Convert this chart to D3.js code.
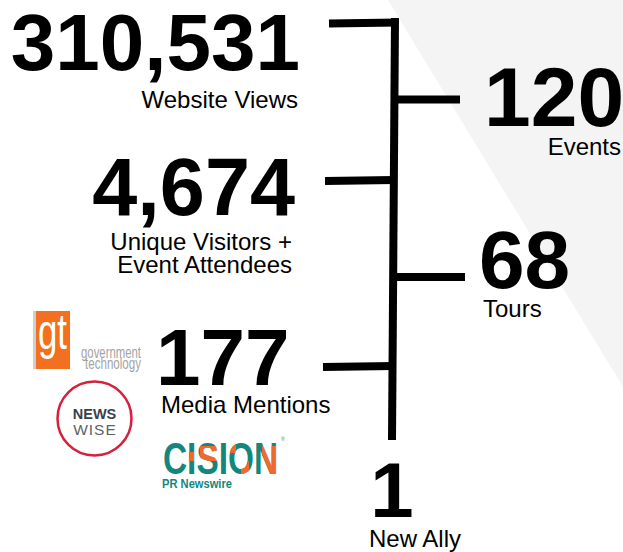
<!DOCTYPE html>
<html>
<head>
<meta charset="utf-8">
<script src="https://cdn.jsdelivr.net/npm/d3@7"></script>
<style>
  body { margin: 0; background: #fff; }
  text { font-family: 'Liberation Sans', Arial, sans-serif; }
</style>
</head>
<body>
<script>
// stats shown on the tree
let values = [310531, 120, 4674, 68, 177, 1]
let labels = [
  ['Website Views'],
  ['Events'],
  ['Unique Visitors +', 'Event Attendees'],
  ['Tours'],
  ['Media Mentions'],
  ['New Ally']
]
let sides = ['left', 'right', 'left', 'right', 'left', 'bottom']

// where each branch sits and where its text goes
let branchY = [22.5, 99.5, 180, 277, 366, 440]
let branchEnd = [329, 460, 325, 465, 323, null]
let numPos = [
  {x: 300, y: 70, anchor: 'end', size: 80},
  {x: 484, y: 126, anchor: 'start', size: 84},
  {x: 295, y: 215, anchor: 'end', size: 81},
  {x: 479, y: 288, anchor: 'start', size: 82},
  {x: 156, y: 385, anchor: 'start', size: 80},
  {x: 392, y: 517, anchor: 'middle', size: 78}
]
let labPos = [
  {x: 298, y: 108, anchor: 'end'},
  {x: 621, y: 155, anchor: 'end'},
  {x: 292, y: 250, anchor: 'end'},
  {x: 483, y: 317, anchor: 'start'},
  {x: 161, y: 413, anchor: 'start'},
  {x: 369, y: 547, anchor: 'start'}
]

let width = 623
let height = 552
let trunkX = 394
let fmt = d3.format(',')

let svg = d3.select('body').append('svg')
  .attr('width', width)
  .attr('height', height)

// light grey wedge on the right
svg.append('polygon')
  .attr('points', [[388, 0], [width, 0], [width, 387]].map(p => p.join(',')).join(' '))
  .attr('fill', '#f4f4f4')

let y = d3.scaleOrdinal()
  .domain(d3.range(values.length))
  .range(branchY)

let tree = svg.append('g')
  .attr('stroke', '#000')
  .attr('stroke-width', 8)
  .attr('fill', 'none')

// trunk
tree.append('line')
  .attr('x1', trunkX + 1).attr('y1', 18)
  .attr('x2', trunkX - 2).attr('y2', y(5))

// branches
tree.selectAll('line.branch')
  .data(d3.range(values.length).filter(i => sides[i] !== 'bottom'))
  .enter()
  .append('line')
  .attr('class', 'branch')
  .attr('x1', i => branchEnd[i])
  .attr('y1', i => y(i) + (sides[i] === 'left' ? 1 : 0))
  .attr('x2', i => sides[i] === 'left' ? trunkX + (i === 0 ? 4 : 0) : trunkX)
  .attr('y2', i => y(i))

// big numbers
svg.selectAll('text.num')
  .data(values)
  .enter()
  .append('text')
  .attr('class', 'num')
  .attr('x', (d, i) => numPos[i].x)
  .attr('y', (d, i) => numPos[i].y)
  .attr('text-anchor', (d, i) => numPos[i].anchor)
  .attr('font-size', (d, i) => numPos[i].size)
  .attr('font-weight', 'bold')
  .attr('fill', '#000')
  .text(d => fmt(d))

// labels
let labs = svg.selectAll('text.lab')
  .data(labels)
  .enter()
  .append('text')
  .attr('class', 'lab')
  .attr('x', (d, i) => labPos[i].x)
  .attr('y', (d, i) => labPos[i].y)
  .attr('text-anchor', (d, i) => labPos[i].anchor)
  .attr('font-size', 24)
  .attr('fill', '#000')

labs.selectAll('tspan')
  .data((d, i) => d.map(t => ({t: t, i: i})))
  .enter()
  .append('tspan')
  .attr('x', d => labPos[d.i].x)
  .attr('dy', (d, j) => j === 0 ? 0 : 23)
  .text(d => d.t)

// ---- media logos ----
let logos = svg.append('g')

// government technology
logos.append('rect').attr('x', 33).attr('y', 311).attr('width', 4).attr('height', 58).attr('fill', '#cfcfcf')
logos.append('rect').attr('x', 36).attr('y', 311).attr('width', 34).attr('height', 58).attr('fill', '#f37021')
logos.append('text')
  .attr('x', 38).attr('y', 349)
  .attr('font-family', 'DejaVu Sans Condensed')
  .attr('font-size', 50)
  .attr('fill', '#fff')
  .attr('textLength', 29)
  .attr('lengthAdjust', 'spacingAndGlyphs')
  .text('gt')
logos.append('text')
  .attr('x', 141).attr('y', 358)
  .attr('text-anchor', 'end')
  .attr('font-family', 'DejaVu Sans Condensed')
  .attr('font-size', 16)
  .attr('fill', '#a3a3a3')
  .attr('textLength', 60)
  .attr('lengthAdjust', 'spacingAndGlyphs')
  .text('government')
logos.append('text')
  .attr('x', 141).attr('y', 369)
  .attr('text-anchor', 'end')
  .attr('font-family', 'DejaVu Sans Condensed')
  .attr('font-size', 16)
  .attr('fill', '#a3a3a3')
  .attr('textLength', 56)
  .attr('lengthAdjust', 'spacingAndGlyphs')
  .text('technology')

// newswise
logos.append('circle')
  .attr('cx', 94.5).attr('cy', 418.5).attr('r', 37)
  .attr('fill', '#fff')
  .attr('stroke', '#d4213d')
  .attr('stroke-width', 2.5)
logos.append('text')
  .attr('x', 94.5).attr('y', 419)
  .attr('text-anchor', 'middle')
  .attr('font-size', 14.5)
  .attr('font-weight', 'bold')
  .attr('fill', '#3b3f47')
  .text('NEWS')
logos.append('text')
  .attr('x', 95).attr('y', 435)
  .attr('text-anchor', 'middle')
  .attr('font-size', 15.5)
  .attr('letter-spacing', 1)
  .attr('fill', '#5f6268')
  .text('WISE')

// cision
let teal = '#14877d'
let orange = '#f2692e'
let defs = svg.append('defs')
let clip = defs.append('clipPath').attr('id', 'cisionOrange')
let orangeBits = [
  [185, 452, 9, 9],
  [200, 446, 20, 15],
  [226, 437, 10, 16],
  [241, 461, 8, 15],
  [262, 446, 22, 32]
]
clip.selectAll('rect')
  .data(orangeBits)
  .enter()
  .append('rect')
  .attr('x', d => d[0]).attr('y', d => d[1])
  .attr('width', d => d[2]).attr('height', d => d[3])

;[teal, orange].forEach((c, k) => {
  logos.append('text')
    .attr('x', 163).attr('y', 474)
    .attr('font-family', 'DejaVu Sans Condensed')
    .attr('font-weight', 'bold')
    .attr('font-size', 45)
    .attr('fill', c)
    .attr('textLength', 115)
    .attr('lengthAdjust', 'spacingAndGlyphs')
    .attr('clip-path', k === 1 ? 'url(#cisionOrange)' : null)
    .text('CISION')
})
logos.append('text')
  .attr('x', 281).attr('y', 441)
  .attr('font-size', 5)
  .attr('fill', teal)
  .text('®')
logos.append('text')
  .attr('x', 162).attr('y', 488)
  .attr('font-size', 12)
  .attr('font-weight', 'bold')
  .attr('fill', teal)
  .attr('textLength', 70)
  .attr('lengthAdjust', 'spacingAndGlyphs')
  .text('PR Newswire')
</script>
</body>
</html>
